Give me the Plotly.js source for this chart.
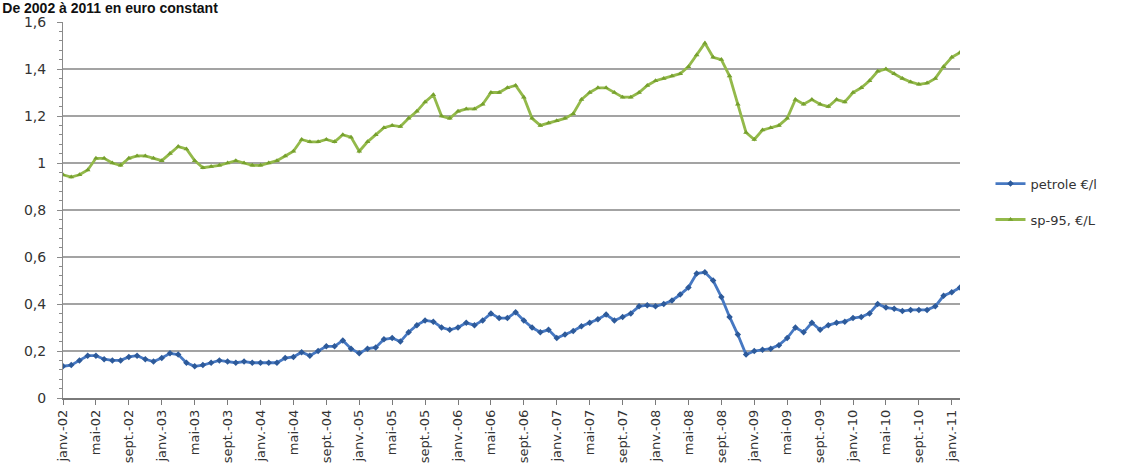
<!DOCTYPE html>
<html>
<head>
<meta charset="utf-8">
<script src="https://cdn.plot.ly/plotly-3.0.1.min.js"></script>
<style>html,body{margin:0;padding:0;background:#fff;}#chart{width:1138px;height:475px;}</style>
</head>
<body>
<div id="chart"></div>
<script>
const titleText = "De 2002 à 2011 en euro constant";
const seriesNames = ["petrole €/l", "sp-95, €/L"];

const tickLabels = ["janv.-02","mai-02","sept.-02","janv.-03","mai-03","sept.-03","janv.-04","mai-04","sept.-04",
  "janv.-05","mai-05","sept.-05","janv.-06","mai-06","sept.-06","janv.-07","mai-07","sept.-07",
  "janv.-08","mai-08","sept.-08","janv.-09","mai-09","sept.-09","janv.-10","mai-10","sept.-10","janv.-11"];

const petrole = [0.135,0.14,0.16,0.18,0.18,0.165,0.16,0.16,0.175,0.18,0.165,0.155,
  0.17,0.19,0.185,0.15,0.135,0.14,0.15,0.16,0.155,0.15,0.155,0.15,
  0.15,0.15,0.15,0.17,0.175,0.195,0.18,0.20,0.22,0.22,0.245,0.21,
  0.19,0.21,0.215,0.25,0.255,0.24,0.28,0.31,0.33,0.325,0.30,0.29,
  0.30,0.32,0.31,0.33,0.36,0.34,0.34,0.365,0.33,0.30,0.28,0.29,
  0.255,0.27,0.285,0.305,0.32,0.335,0.355,0.33,0.345,0.36,0.39,0.395,
  0.39,0.40,0.415,0.44,0.47,0.53,0.535,0.50,0.43,0.345,0.27,0.185,
  0.20,0.205,0.21,0.225,0.255,0.30,0.28,0.32,0.29,0.31,0.32,0.325,
  0.34,0.345,0.36,0.40,0.385,0.38,0.37,0.375,0.375,0.375,0.39,0.435,
  0.45,0.47];

const sp95 = [0.95,0.94,0.95,0.97,1.02,1.02,1.00,0.99,1.02,1.03,1.03,1.02,
  1.01,1.04,1.07,1.06,1.01,0.98,0.985,0.99,1.00,1.01,1.00,0.99,
  0.99,1.00,1.01,1.03,1.05,1.10,1.09,1.09,1.10,1.09,1.12,1.11,
  1.05,1.09,1.12,1.15,1.16,1.155,1.19,1.22,1.26,1.29,1.20,1.19,
  1.22,1.23,1.23,1.25,1.30,1.30,1.32,1.33,1.28,1.19,1.16,1.17,
  1.18,1.19,1.21,1.27,1.30,1.32,1.32,1.30,1.28,1.28,1.30,1.33,
  1.35,1.36,1.37,1.38,1.41,1.46,1.51,1.45,1.44,1.37,1.25,1.13,
  1.10,1.14,1.15,1.16,1.19,1.27,1.25,1.27,1.25,1.24,1.27,1.26,
  1.30,1.32,1.35,1.39,1.40,1.38,1.36,1.345,1.335,1.34,1.36,1.41,
  1.45,1.47];

const yTickVals = [0,0.2,0.4,0.6,0.8,1,1.2,1.4,1.6];
const yTickText = ["0","0,2","0,4","0,6","0,8","1","1,2","1,4","1,6"];

const xIdx = petrole.map((_, i) => i);
const tickVals = tickLabels.map((_, i) => i * 4);

const traces = [
  {x: xIdx, y: petrole, name: seriesNames[0], type: 'scatter', mode: 'lines+markers',
   legendgroup: 'a',
   line: {color: '#4678c2', width: 2.8}, marker: {symbol: 'diamond', size: 5, color: '#2d5a9a'}},
  {x: xIdx, y: sp95, name: seriesNames[1], type: 'scatter', mode: 'lines+markers',
   legendgroup: 'b',
   line: {color: '#93b94a', width: 2.8}, marker: {symbol: 'triangle-up', size: 5, color: '#76a02e'}}
];

const layout = {
  width: 1138, height: 475,
  margin: {l: 63, r: 178, t: 22, b: 77},
  paper_bgcolor: '#fff', plot_bgcolor: '#fff',
  title: {text: '<b>' + titleText + '</b>', x: 0.002, xref: 'container', xanchor: 'left',
          y: 0.994, yref: 'container', yanchor: 'top', pad: {t: 0},
          font: {family: 'Liberation Sans, Arial, sans-serif', size: 14, color: '#111'}},
  font: {family: 'DejaVu Sans, sans-serif', color: '#333'},
  showlegend: true,
  legend: {x: 1.034, xanchor: 'left', y: 0.61, yanchor: 'top', tracegroupgap: 16,
           font: {size: 13, color: '#333'}, bgcolor: 'rgba(0,0,0,0)', itemwidth: 30},
  xaxis: {range: [0, petrole.length - 1], tickvals: tickVals, ticktext: tickLabels,
          tickangle: -90, tickfont: {size: 13, color: '#333'},
          showgrid: false, zeroline: false, showline: true, linecolor: '#7a7a7a', linewidth: 1.5,
          ticks: 'outside', ticklen: 5, tickcolor: '#7a7a7a', fixedrange: true},
  yaxis: {range: [0, 1.6], tickvals: yTickVals, ticktext: yTickText,
          tickfont: {size: 14, color: '#333'},
          showgrid: true, gridcolor: '#a3a3a3', gridwidth: 1.5, zeroline: false,
          showline: true, linecolor: '#8a8a8a', linewidth: 1,
          ticks: 'outside', ticklen: 5, tickcolor: '#8a8a8a', ticklabelstandoff: 8,
          minor: {dtick: 0.04, ticks: 'outside', ticklen: 3, tickcolor: '#8a8a8a', showgrid: false},
          fixedrange: true}
};

Plotly.newPlot('chart', traces, layout, {displayModeBar: false, staticPlot: true});
</script>
</body>
</html>
